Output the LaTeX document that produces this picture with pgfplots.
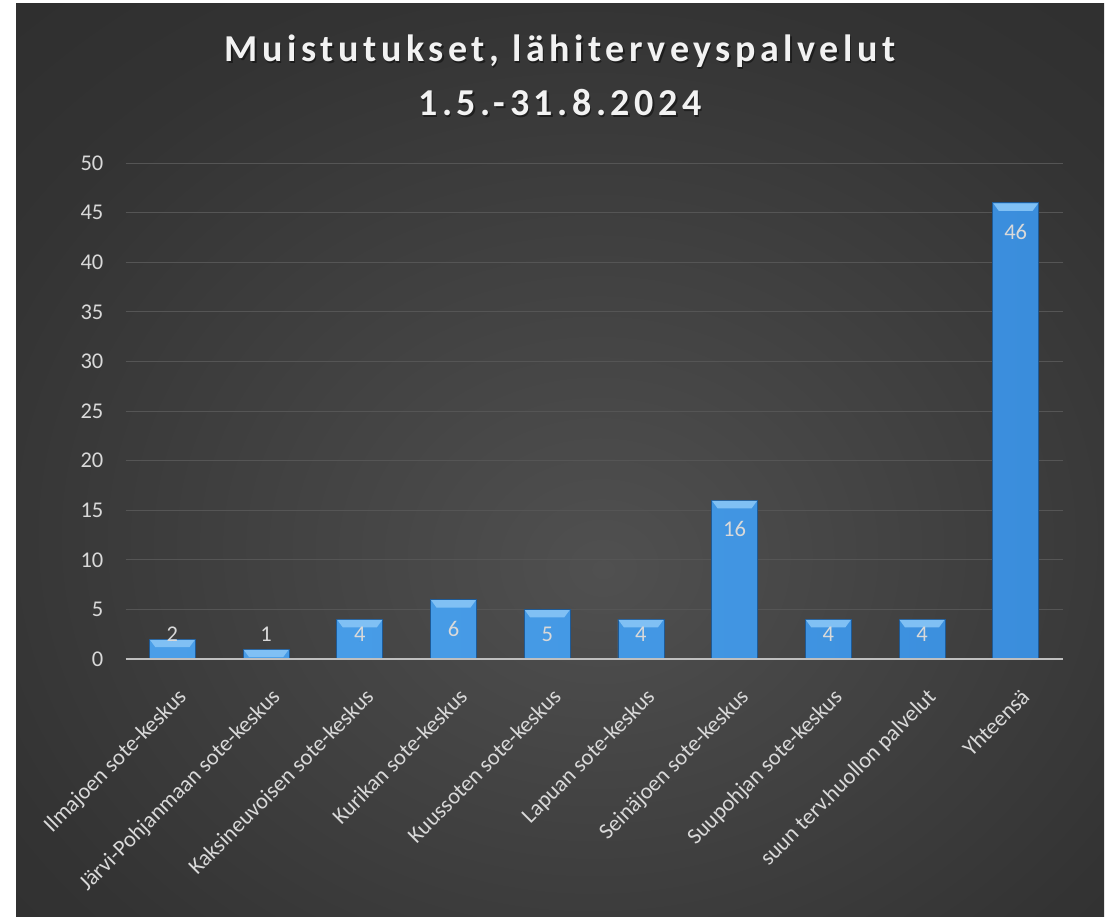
\documentclass[border=0pt]{standalone}
\usepackage{pgfplots}
\pgfplotsset{compat=1.18}
\usepackage{pgfplotstable}
\usepackage{fontspec}
\setmainfont{Carlito}
\newfontfamily\titlefont[LetterSpace=12]{Carlito}
\definecolor{lbl}{HTML}{D9D9D9}
\definecolor{gridc}{HTML}{555555}
\definecolor{axc}{HTML}{BFBFBF}
\definecolor{barL}{HTML}{4A9EE8}
\definecolor{barR}{HTML}{3A8DDC}
\definecolor{barmid}{HTML}{4499E5}
\definecolor{baredge}{HTML}{1E5A96}
\definecolor{bevel}{HTML}{80C0F4}
\definecolor{bgA}{HTML}{505050}
\definecolor{bgB}{HTML}{333333}
\definecolor{bgC}{HTML}{242424}
\pgfdeclareradialshading{bgshade}{\pgfpoint{2bp}{-6bp}}{color(0bp)=(bgA); color(30bp)=(bgB); color(60bp)=(bgC); color(80bp)=(bgC)}
\pgfdeclareplotmark{bevel}{%
  \pgfpathmoveto{\pgfqpoint{-22.4pt}{-0.6pt}}%
  \pgfpathlineto{\pgfqpoint{22.4pt}{-0.6pt}}%
  \pgfpathlineto{\pgfqpoint{17pt}{-8pt}}%
  \pgfpathlineto{\pgfqpoint{-17pt}{-8pt}}%
  \pgfpathclose
  \pgfusepath{fill}}

\pgfplotstableread{
x v ly
0 2 1.81
1 1 1.81
2 4 1.81
3 6 2.32
4 5 1.81
5 4 1.81
6 16 12.32
7 4 1.81
8 4 1.81
9 46 42.32
}\datatab

\begin{document}
\begin{tikzpicture}[x=1pt,y=1pt]
\fill[white] (0,0) rectangle (1109,917);
\begin{scope}[overlay]
\fill[bgC] (16,0) rectangle (1104,913);
\shade[shading=bgshade] (16,0) rectangle (1104,913);
% title
\node[anchor=base, text=black, opacity=0.45] at (561.5,853) {\titlefont\fontsize{38}{44}\selectfont\bfseries Muistutukset, lähiterveyspalvelut};
\node[anchor=base, text=black, opacity=0.45] at (561.5,799) {\titlefont\fontsize{38}{44}\selectfont\bfseries 1.5.-31.8.2024};
\node[anchor=base, text=white!95!black] at (560,855) {\titlefont\fontsize{38}{44}\selectfont\bfseries Muistutukset, lähiterveyspalvelut};
\node[anchor=base, text=white!95!black] at (560,801) {\titlefont\fontsize{38}{44}\selectfont\bfseries 1.5.-31.8.2024};
\begin{axis}[
  at={(184,260)}, anchor=origin,
  scale only axis, width=937pt, height=496pt,
  xmin=-0.5, xmax=9.5, ymin=0, ymax=50,
  axis line style={draw=none},
  xtick=data,
  xticklabels={Ilmajoen sote-keskus, Järvi-Pohjanmaan sote-keskus, Kaksineuvoisen sote-keskus, Kurikan sote-keskus, Kuussoten sote-keskus, Lapuan sote-keskus, Seinäjoen sote-keskus, Suupohjan sote-keskus, suun terv.huollon palvelut, Yhteensä},
  ytick={0,5,...,50},
  major tick length=0pt,
  ymajorgrids, grid style={gridc, line width=1pt},
  tick label style={text=lbl, font=\fontsize{22.5}{26}\selectfont},
  /pgf/number format/assume math mode=true,
  yticklabel style={anchor=east, inner sep=0pt, xshift=-22pt},
  xticklabel style={xshift=4pt, yshift=-28pt, rotate=45, anchor=north east, inner sep=0pt},
  clip=false,
]
\addplot[ybar, bar width=46pt, left color=barL, right color=barR, middle color=barmid, draw=baredge, line width=0.7pt] table[x=x, y=v] {\datatab};
\addplot[only marks, mark=bevel, mark options={fill=bevel, draw=none}] table[x=x, y=v] {\datatab};
\addplot[draw=none, mark=*, mark size=0pt, mark options={draw=none, fill=none},
  point meta=explicit,
  nodes near coords={\pgfmathprintnumber{\pgfplotspointmeta}},
  every node near coord/.append style={anchor=base, text=lbl, inner sep=0pt, font=\fontsize{22.5}{26}\selectfont, /pgf/number format/assume math mode=true}]
  table[x=x, y=ly, meta=v] {\datatab};
\draw[axc, line width=2.5pt] (axis cs:-0.5,0) -- (axis cs:9.5,0);
\end{axis}
\end{scope}
\end{tikzpicture}
\end{document}
